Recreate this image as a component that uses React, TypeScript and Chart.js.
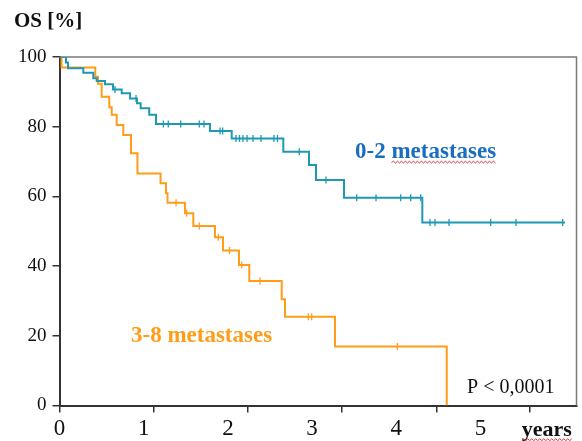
import React, { useEffect, useRef } from 'react';
import { Chart, registerables } from 'chart.js';

Chart.register(...registerables);

// ---- data (years / survival %) ----
const xTickLabels = [0, 1, 2, 3, 4, 5];
const xTickMarks = [0, 1.12, 2.24, 3.35, 4.48, 5.59];
const yTicks = [0, 20, 40, 60, 80, 100];

// 0-2 metastases
const lowTimes = [0, 0.077, 0.101, 0.283, 0.401, 0.442, 0.54, 0.635, 0.739, 0.838, 0.92, 0.964, 1.066, 1.146, 1.787, 2.045, 2.658, 2.963, 3.046, 3.379, 4.309, 6.004];
const lowSurv = [100, 98.4, 96.8, 95.5, 93.9, 93.1, 92.2, 90.7, 89.6, 88.1, 86.7, 85.3, 83.4, 80.8, 78.8, 76.6, 72.8, 69.0, 64.7, 59.6, 52.5, 52.5];
const lowCensorTimes = [0.659, 0.909, 1.233, 1.292, 1.439, 1.66, 1.716, 1.907, 1.938, 2.096, 2.138, 2.179, 2.227, 2.298, 2.393, 2.547, 2.589, 2.848, 3.165, 3.53, 3.759, 4.052, 4.171, 4.29, 4.4, 4.46, 4.626, 5.121, 5.422, 5.976];
const lowCensorSurv = [90.7, 88.1, 80.8, 80.8, 80.8, 80.8, 80.8, 78.8, 78.8, 76.6, 76.6, 76.6, 76.6, 76.6, 76.6, 76.6, 76.6, 72.8, 64.7, 59.6, 59.6, 59.6, 59.6, 59.6, 52.5, 52.5, 52.5, 52.5, 52.5, 52.5];

// 3-8 metastases
const highTimes = [0, 0.024, 0.425, 0.457, 0.501, 0.591, 0.62, 0.679, 0.758, 0.849, 0.926, 1.2, 1.265, 1.283, 1.49, 1.589, 1.847, 1.942, 2.132, 2.254, 2.639, 2.678, 3.272, 4.599];
const highSurv = [100, 97.0, 94.3, 92.3, 88.6, 85.6, 83.4, 80.5, 77.6, 72.4, 66.6, 63.8, 60.9, 58.2, 55.2, 51.5, 48.3, 44.5, 40.3, 35.7, 30.5, 25.5, 16.9, 0];
const highCensorTimes = [1.384, 1.511, 1.66, 1.886, 2.019, 2.164, 2.381, 2.955, 2.995, 4.012];
const highCensorSurv = [58.2, 55.2, 51.5, 48.3, 44.5, 40.3, 35.7, 25.5, 25.5, 16.9];

const labelLow = '0-2 metastases';
const labelHigh = '3-8 metastases';
const pText = 'P < 0,0001';
const xUnit = 'years';
const yTitle = 'OS [%]';

const BLUE = '#1f98b6';
const ORANGE = '#ff9c1a';
const SERIF = "'Liberation Serif', 'Times New Roman', serif";

const zip = (xs: number[], ys: number[]) => xs.map((x, i) => ({ x, y: ys[i] }));

function squiggle(ctx: CanvasRenderingContext2D, x0: number, x1: number, yy: number) {
  ctx.save();
  ctx.strokeStyle = '#e0303a';
  ctx.lineWidth = 1;
  ctx.beginPath();
  let up = true;
  ctx.moveTo(x0, yy);
  for (let xx = x0 + 2; xx <= x1; xx += 2) {
    ctx.lineTo(xx, up ? yy - 1.2 : yy + 0.6);
    up = !up;
  }
  ctx.stroke();
  ctx.restore();
}

const overlayPlugin = {
  id: 'overlay',
  beforeDatasetsDraw(chart: any) {
    const { ctx, chartArea: a } = chart;
    ctx.save();
    ctx.strokeStyle = '#7a7a7a';
    ctx.lineWidth = 1.5;
    ctx.beginPath();
    ctx.moveTo(a.left, a.top);
    ctx.lineTo(a.right, a.top);
    ctx.lineTo(a.right, a.bottom);
    ctx.stroke();
    ctx.restore();
  },
  afterDraw(chart: any) {
    const { ctx } = chart;
    const x = chart.scales.x;
    const y = chart.scales.y;
    ctx.save();
    ctx.textBaseline = 'alphabetic';
    ctx.textAlign = 'left';

    // y title
    ctx.fillStyle = '#111';
    ctx.font = `bold 21px ${SERIF}`;
    ctx.fillText(yTitle, x.getPixelForValue(-0.54), y.getPixelForValue(108.7));

    // group labels
    ctx.font = `bold 23px ${SERIF}`;
    ctx.fillStyle = '#1a6ec2';
    const lx = x.getPixelForValue(3.51);
    const ly = y.getPixelForValue(70.9);
    ctx.fillText(labelLow, lx, ly);
    const pre = ctx.measureText('0-2 ').width;
    const full = ctx.measureText(labelLow).width;
    squiggle(ctx, lx + pre, lx + full, ly + 4);

    ctx.fillStyle = ORANGE;
    ctx.fillText(labelHigh, x.getPixelForValue(0.849), y.getPixelForValue(18.3));

    // p value
    ctx.fillStyle = '#111';
    ctx.font = `20px ${SERIF}`;
    ctx.fillText(pText, x.getPixelForValue(4.84), y.getPixelForValue(3.5));

    // unit
    ctx.font = `bold 22px ${SERIF}`;
    const ux = x.getPixelForValue(5.49);
    const uy = y.getPixelForValue(-8.75);
    ctx.fillText(xUnit, ux, uy);
    squiggle(ctx, ux, ux + ctx.measureText(xUnit).width, uy + 4);
    ctx.restore();
  },
};

export default function App() {
  const ref = useRef<HTMLCanvasElement | null>(null);

  useEffect(() => {
    if (!ref.current) return;
    const chart = new Chart(ref.current, {
      type: 'line',
      data: {
        datasets: [
          {
            label: labelLow,
            data: zip(lowTimes, lowSurv),
            borderColor: BLUE,
            borderWidth: 2,
            stepped: true,
            pointRadius: 0,
            fill: false,
          },
          {
            label: labelHigh,
            data: zip(highTimes, highSurv),
            borderColor: ORANGE,
            borderWidth: 2,
            stepped: true,
            pointRadius: 0,
            fill: false,
          },
          {
            label: labelLow + ' censored',
            data: zip(lowCensorTimes, lowCensorSurv),
            showLine: false,
            pointStyle: 'line',
            rotation: 90,
            pointRadius: 3.5,
            borderColor: BLUE,
            borderWidth: 1.3,
          } as any,
          {
            label: labelHigh + ' censored',
            data: zip(highCensorTimes, highCensorSurv),
            showLine: false,
            pointStyle: 'line',
            rotation: 90,
            pointRadius: 3.5,
            borderColor: ORANGE,
            borderWidth: 1.3,
          } as any,
        ],
      },
      options: {
        animation: false,
        responsive: false,
        devicePixelRatio: 1,
        layout: { padding: { top: 57, right: 5.5, left: 0, bottom: 0 } },
        plugins: { legend: { display: false }, tooltip: { enabled: false } },
        scales: {
          x: {
            type: 'linear',
            position: 'bottom',
            min: 0,
            max: 6.14,
            weight: 1,
            afterBuildTicks: (s: any) => {
              s.ticks = xTickMarks.map((v) => ({ value: v }));
            },
            afterFit: (s: any) => {
              s.height = 7;
            },
            ticks: { display: false },
            grid: { drawOnChartArea: false, drawTicks: true, tickLength: 7, color: '#333', lineWidth: 1.5 },
            border: { display: true, color: '#333', width: 2 },
          },
          x2: {
            type: 'linear',
            position: 'bottom',
            min: 0,
            max: 6.14,
            weight: 2,
            afterBuildTicks: (s: any) => {
              s.ticks = xTickLabels.map((v) => ({ value: v }));
            },
            afterFit: (s: any) => {
              s.height = 28.5;
            },
            ticks: {
              color: '#111',
              padding: 3,
              maxRotation: 0,
              autoSkip: false,
              font: { family: SERIF, size: 23 },
            },
            grid: { display: false, drawTicks: false },
            border: { display: false },
          },
          y: {
            type: 'linear',
            min: 0,
            max: 100,
            afterBuildTicks: (s: any) => {
              s.ticks = yTicks.map((v) => ({ value: v }));
            },
            afterFit: (s: any) => {
              s.width = 59.5;
            },
            ticks: { color: '#111', padding: 6, font: { family: SERIF, size: 19 } },
            grid: { drawOnChartArea: false, drawTicks: true, tickLength: 7, color: '#333', lineWidth: 1.5 },
            border: { display: true, color: '#333', width: 2 },
          },
        },
      } as any,
      plugins: [overlayPlugin],
    });
    return () => chart.destroy();
  }, []);

  return (
    <div style={{ position: 'fixed', left: 0, top: 0, width: 582, height: 441, background: '#fff' }}>
      <canvas ref={ref} width={582} height={441} style={{ display: 'block' }} />
    </div>
  );
}
